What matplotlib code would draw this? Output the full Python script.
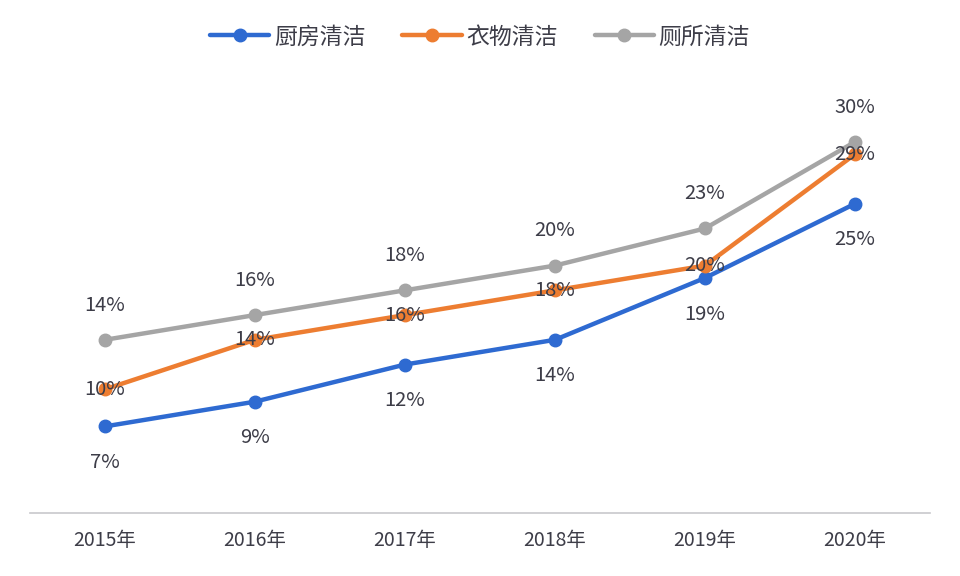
import numpy as np
import matplotlib
matplotlib.use('Agg')
import matplotlib.pyplot as plt

plt.rcParams['font.family'] = ['Noto Sans CJK SC', 'DejaVu Sans']

years = ['2015年', '2016年', '2017年', '2018年', '2019年', '2020年']
kitchen = [7, 9, 12, 14, 19, 25]
clothes = [10, 14, 16, 18, 20, 29]
toilet = [14, 16, 18, 20, 23, 30]

names = ['厨房清洁', '衣物清洁', '厕所清洁']
colors = ['#2E6AD1', '#ED7D31', '#A5A5A5']
text_color = '#3d3d48'

fig = plt.figure(figsize=(9.6, 5.76), dpi=100)
ax = fig.add_axes([30/960, 63/576, 900/960, 433/576])

x = np.arange(len(years))
series = [kitchen, clothes, toilet]
# label offsets in points: blue below, orange on point, gray above
offsets = [-26, 0, 25]

for vals, name, c, off in zip(series, names, colors, offsets):
    ax.plot(x, vals, color=c, lw=3.2, marker='o', markersize=9,
            label=name, solid_capstyle='round', zorder=3)
    for xi, v in zip(x, vals):
        ax.annotate(f'{v}%', (xi, v), xytext=(0, off), textcoords='offset points',
                    ha='center', va='center', fontsize=14.5, color=text_color, zorder=4)

ax.set_xlim(-0.5, 5.5)
ax.set_ylim(0, 35)
ax.set_xticks(x)
ax.set_xticklabels(years, fontsize=14, color=text_color)
ax.tick_params(axis='x', length=0, pad=12)
ax.set_yticks([])
for s in ['top', 'right', 'left']:
    ax.spines[s].set_visible(False)
ax.spines['bottom'].set_color('#C8C8CC')
ax.spines['bottom'].set_linewidth(1.2)

leg = fig.legend(loc='center', bbox_to_anchor=(0.5, 1 - 37/576), ncol=3, frameon=False,
                 fontsize=16.5, handlelength=2.6, columnspacing=1.6, handletextpad=0.2)
for t in leg.get_texts():
    t.set_color(text_color)

fig.savefig('out.png', dpi=100, facecolor='white')
